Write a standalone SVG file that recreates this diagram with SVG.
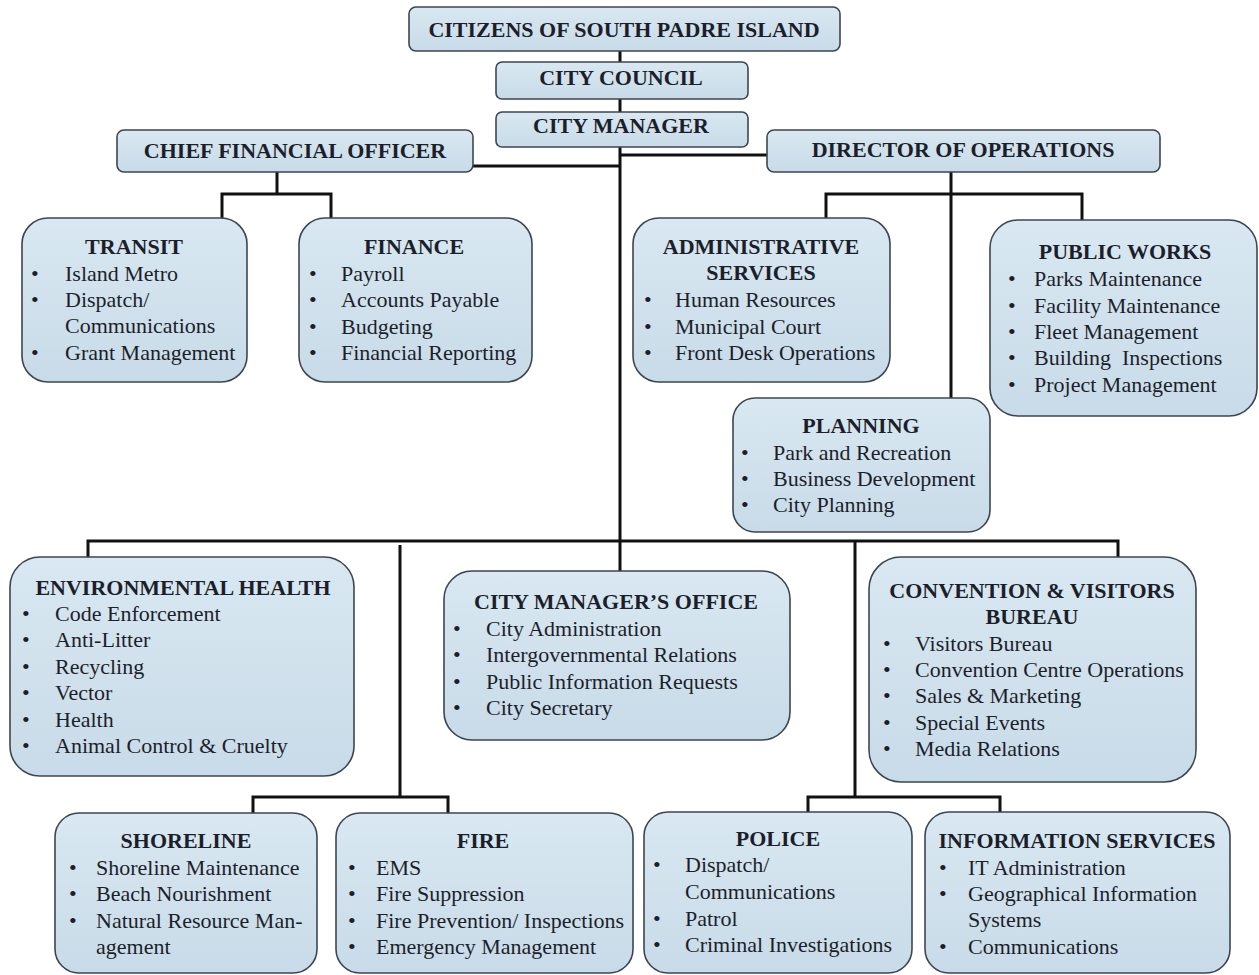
<svg xmlns="http://www.w3.org/2000/svg" width="1259" height="975" viewBox="0 0 1259 975">
<defs>
<linearGradient id="g" x1="0" y1="0" x2="0" y2="1">
<stop offset="0" stop-color="#d9e8f2"/>
<stop offset="1" stop-color="#c8dbe8"/>
</linearGradient>
</defs>
<style>
.box{fill:url(#g);stroke:#3c4650;stroke-width:1.6}
.t{font-family:"Liberation Serif","Times New Roman",serif;font-weight:bold;font-size:22px;fill:#1c1f2a;text-anchor:middle}
.i{font-family:"Liberation Serif","Times New Roman",serif;font-size:22px;fill:#1c1f2a}
.b{font-family:"Liberation Serif","Times New Roman",serif;font-size:22px;fill:#1c1f2a}
.c{fill:none;stroke:#111;stroke-width:3}
</style>
<rect width="1259" height="975" fill="#ffffff"/>
<g id="connectors">
<path class="c" d="M620 51V571"/>
<path class="c" d="M473 166H620M767 155H620"/>
<path class="c" d="M277 172V194M222 218V194H331V218"/>
<path class="c" d="M951 172V398M826 218V194H1082V220"/>
<path class="c" d="M88 557V541H1118V557"/>
<path class="c" d="M400 545V797M253 813V797H448V813"/>
<path class="c" d="M855 541V797M808 812V797H1000V812"/>
</g>
<g id="citizens">
<rect class="box" x="409" y="7" width="431" height="44" rx="7"/>
<text class="t" x="624" y="37">CITIZENS OF SOUTH PADRE ISLAND</text>
</g>
<g id="city-council">
<rect class="box" x="496" y="62" width="252" height="37" rx="6"/>
<text class="t" x="621" y="85">CITY COUNCIL</text>
</g>
<g id="city-manager">
<rect class="box" x="496" y="112" width="252" height="35" rx="6"/>
<text class="t" x="621" y="133">CITY MANAGER</text>
</g>
<g id="cfo">
<rect class="box" x="117" y="130" width="356" height="42" rx="7"/>
<text class="t" x="295" y="158">CHIEF FINANCIAL OFFICER</text>
</g>
<g id="director-operations">
<rect class="box" x="767" y="130" width="393" height="42" rx="7"/>
<text class="t" x="963" y="157">DIRECTOR OF OPERATIONS</text>
</g>
<g id="transit">
<rect class="box" x="22" y="218" width="225" height="164" rx="26"/>
<text class="t" x="134" y="254">TRANSIT</text>
<text class="b" x="31" y="281">•</text><text class="i" x="65" y="281">Island Metro</text>
<text class="b" x="31" y="307">•</text><text class="i" x="65" y="307">Dispatch/</text>
<text class="i" x="65" y="333">Communications</text>
<text class="b" x="31" y="360">•</text><text class="i" x="65" y="360">Grant Management</text>
</g>
<g id="finance">
<rect class="box" x="299" y="218" width="233" height="164" rx="26"/>
<text class="t" x="414" y="254">FINANCE</text>
<text class="b" x="309" y="281">•</text><text class="i" x="341" y="281">Payroll</text>
<text class="b" x="309" y="307">•</text><text class="i" x="341" y="307">Accounts Payable</text>
<text class="b" x="309" y="334">•</text><text class="i" x="341" y="334">Budgeting</text>
<text class="b" x="309" y="360">•</text><text class="i" x="341" y="360">Financial Reporting</text>
</g>
<g id="administrative-services">
<rect class="box" x="633" y="218" width="257" height="164" rx="26"/>
<text class="t" x="761" y="254">ADMINISTRATIVE</text>
<text class="t" x="761" y="280">SERVICES</text>
<text class="b" x="644" y="307">•</text><text class="i" x="675" y="307">Human Resources</text>
<text class="b" x="644" y="334">•</text><text class="i" x="675" y="334">Municipal Court</text>
<text class="b" x="644" y="360">•</text><text class="i" x="675" y="360">Front Desk Operations</text>
</g>
<g id="public-works">
<rect class="box" x="990" y="220" width="267" height="196" rx="28"/>
<text class="t" x="1125" y="259">PUBLIC WORKS</text>
<text class="b" x="1008" y="286">•</text><text class="i" x="1034" y="286">Parks Maintenance</text>
<text class="b" x="1008" y="313">•</text><text class="i" x="1034" y="313">Facility Maintenance</text>
<text class="b" x="1008" y="339">•</text><text class="i" x="1034" y="339">Fleet Management</text>
<text class="b" x="1008" y="365">•</text><text class="i" x="1034" y="365" xml:space="preserve">Building  Inspections</text>
<text class="b" x="1008" y="392">•</text><text class="i" x="1034" y="392">Project Management</text>
</g>
<g id="planning">
<rect class="box" x="733" y="398" width="257" height="134" rx="22"/>
<text class="t" x="861" y="433">PLANNING</text>
<text class="b" x="741" y="460">•</text><text class="i" x="773" y="460">Park and Recreation</text>
<text class="b" x="741" y="486">•</text><text class="i" x="773" y="486">Business Development</text>
<text class="b" x="741" y="512">•</text><text class="i" x="773" y="512">City Planning</text>
</g>
<g id="environmental-health">
<rect class="box" x="10" y="557" width="344" height="219" rx="30"/>
<text class="t" x="183" y="595">ENVIRONMENTAL HEALTH</text>
<text class="b" x="22" y="621">•</text><text class="i" x="55" y="621">Code Enforcement</text>
<text class="b" x="22" y="647">•</text><text class="i" x="55" y="647">Anti-Litter</text>
<text class="b" x="22" y="674">•</text><text class="i" x="55" y="674">Recycling</text>
<text class="b" x="22" y="700">•</text><text class="i" x="55" y="700">Vector</text>
<text class="b" x="22" y="727">•</text><text class="i" x="55" y="727">Health</text>
<text class="b" x="22" y="753">•</text><text class="i" x="55" y="753">Animal Control &amp; Cruelty</text>
</g>
<g id="city-managers-office">
<rect class="box" x="444" y="571" width="346" height="169" rx="28"/>
<text class="t" x="616" y="609">CITY MANAGER’S OFFICE</text>
<text class="b" x="453" y="636">•</text><text class="i" x="486" y="636">City Administration</text>
<text class="b" x="453" y="662">•</text><text class="i" x="486" y="662">Intergovernmental Relations</text>
<text class="b" x="453" y="689">•</text><text class="i" x="486" y="689">Public Information Requests</text>
<text class="b" x="453" y="715">•</text><text class="i" x="486" y="715">City Secretary</text>
</g>
<g id="convention-visitors-bureau">
<rect class="box" x="869" y="557" width="327" height="225" rx="32"/>
<text class="t" x="1032" y="598">CONVENTION &amp; VISITORS</text>
<text class="t" x="1032" y="624">BUREAU</text>
<text class="b" x="883" y="651">•</text><text class="i" x="915" y="651">Visitors Bureau</text>
<text class="b" x="883" y="677">•</text><text class="i" x="915" y="677">Convention Centre Operations</text>
<text class="b" x="883" y="703">•</text><text class="i" x="915" y="703">Sales &amp; Marketing</text>
<text class="b" x="883" y="730">•</text><text class="i" x="915" y="730">Special Events</text>
<text class="b" x="883" y="756">•</text><text class="i" x="915" y="756">Media Relations</text>
</g>
<g id="shoreline">
<rect class="box" x="55" y="813" width="262" height="160" rx="24"/>
<text class="t" x="186" y="848">SHORELINE</text>
<text class="b" x="69" y="875">•</text><text class="i" x="96" y="875">Shoreline Maintenance</text>
<text class="b" x="69" y="901">•</text><text class="i" x="96" y="901">Beach Nourishment</text>
<text class="b" x="69" y="928">•</text><text class="i" x="96" y="928">Natural Resource Man-</text>
<text class="i" x="96" y="954">agement</text>
</g>
<g id="fire">
<rect class="box" x="336" y="813" width="297" height="160" rx="24"/>
<text class="t" x="483" y="848">FIRE</text>
<text class="b" x="348" y="875">•</text><text class="i" x="376" y="875">EMS</text>
<text class="b" x="348" y="901">•</text><text class="i" x="376" y="901">Fire Suppression</text>
<text class="b" x="348" y="928">•</text><text class="i" x="376" y="928">Fire Prevention/ Inspections</text>
<text class="b" x="348" y="954">•</text><text class="i" x="376" y="954">Emergency Management</text>
</g>
<g id="police">
<rect class="box" x="644" y="812" width="268" height="161" rx="24"/>
<text class="t" x="778" y="846">POLICE</text>
<text class="b" x="653" y="872">•</text><text class="i" x="685" y="872">Dispatch/</text>
<text class="i" x="685" y="899">Communications</text>
<text class="b" x="653" y="926">•</text><text class="i" x="685" y="926">Patrol</text>
<text class="b" x="653" y="952">•</text><text class="i" x="685" y="952">Criminal Investigations</text>
</g>
<g id="information-services">
<rect class="box" x="925" y="812" width="305" height="161" rx="24"/>
<text class="t" x="1077" y="848">INFORMATION SERVICES</text>
<text class="b" x="939" y="875">•</text><text class="i" x="968" y="875">IT Administration</text>
<text class="b" x="939" y="901">•</text><text class="i" x="968" y="901">Geographical Information</text>
<text class="i" x="968" y="927">Systems</text>
<text class="b" x="939" y="954">•</text><text class="i" x="968" y="954">Communications</text>
</g>
</svg>
